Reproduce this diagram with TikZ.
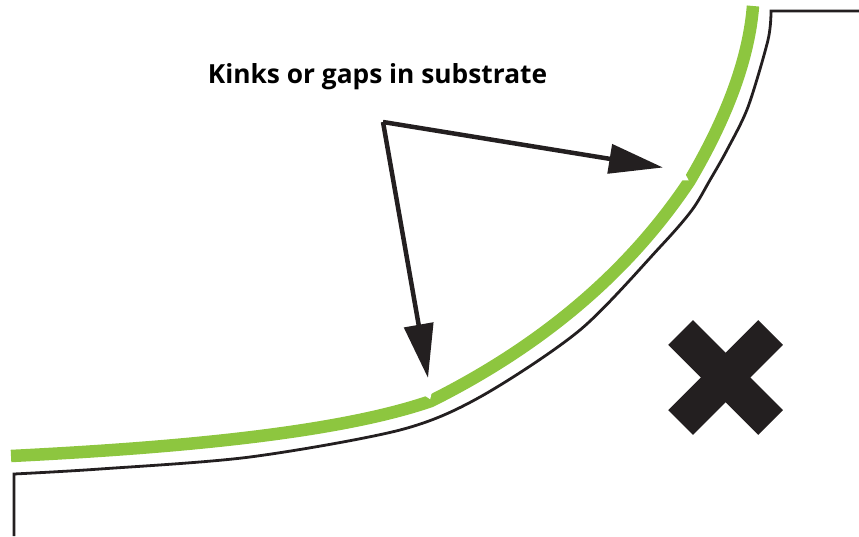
\documentclass[tikz,border=0pt]{standalone}
\usepackage{fontspec}
\newfontfamily\labelfont{Open Sans}
\usetikzlibrary{arrows.meta}
\definecolor{leaf}{HTML}{8DC63F}
\definecolor{ink}{HTML}{231F20}
\tikzset{
  substrate/.style={draw=ink, line width=2.8pt, line join=miter},
  coating/.style={draw=leaf, line width=12.5pt, line cap=butt, line join=miter},
  pointer/.style={draw=ink, line width=4.5pt, line join=miter,
    -{Triangle[length=54pt,width=29pt]}},
  crossarm/.style={draw=ink, line width=35pt, line cap=butt},
  notch/.style={fill=white, draw=none},
  caption/.style={font=\labelfont\bfseries\fontsize{26.3}{31}\selectfont, text=black, inner sep=0pt, anchor=base}
}
\begin{document}
\begin{tikzpicture}[x=1pt,y=-1pt]
\useasboundingbox (0,0) rectangle (859,536);
% substrate outline
\draw[substrate] (14,536) -- plot[smooth, tension=0.5] coordinates {(14,474) (100,469) (250,457) (400,430) (480,397) (580,330) (660,247) (692,210) (710,180) (727,150) (748,107) (768,40) (771,11)} -- (859,11);
% green coating with two kinks
\coordinate (g0) at (11,456);
\coordinate (kinkA) at (431,401);
\coordinate (kinkB) at (689.5,181);
\coordinate (g3) at (753,6);
\draw[coating] (g0) .. controls (150,449) and (330,436) .. (kinkA)
  .. controls (542.8,345.1) and (629,271.7) .. (kinkB)
  .. controls (727.7,116.1) and (748.9,57.7) .. (g3);
% notches at the kinks
\fill[notch] (424.4,395.5) -- (430.2,399.2) -- (431.8,392.2) -- cycle;
\fill[notch] (685,173.4) -- (688.7,180.5) -- (680.8,180.2) -- cycle;
% caption and pointers
\node[caption] (cap) at (377.5,83) {Kinks or gaps in substrate};
\coordinate (v) at (383,122);
\coordinate (k1) at (663,167.5);
\coordinate (k2) at (428,378);
\draw[pointer] (v) -- (k1);
\draw[pointer] (v) -- (k2);
% cross
\coordinate (x1) at (680.5,332.5);
\coordinate (x2) at (770.5,422.5);
\coordinate (x3) at (770.5,332.5);
\coordinate (x4) at (680.5,422.5);
\draw[crossarm] (x1) -- (x2);
\draw[crossarm] (x3) -- (x4);
\end{tikzpicture}
\end{document}
